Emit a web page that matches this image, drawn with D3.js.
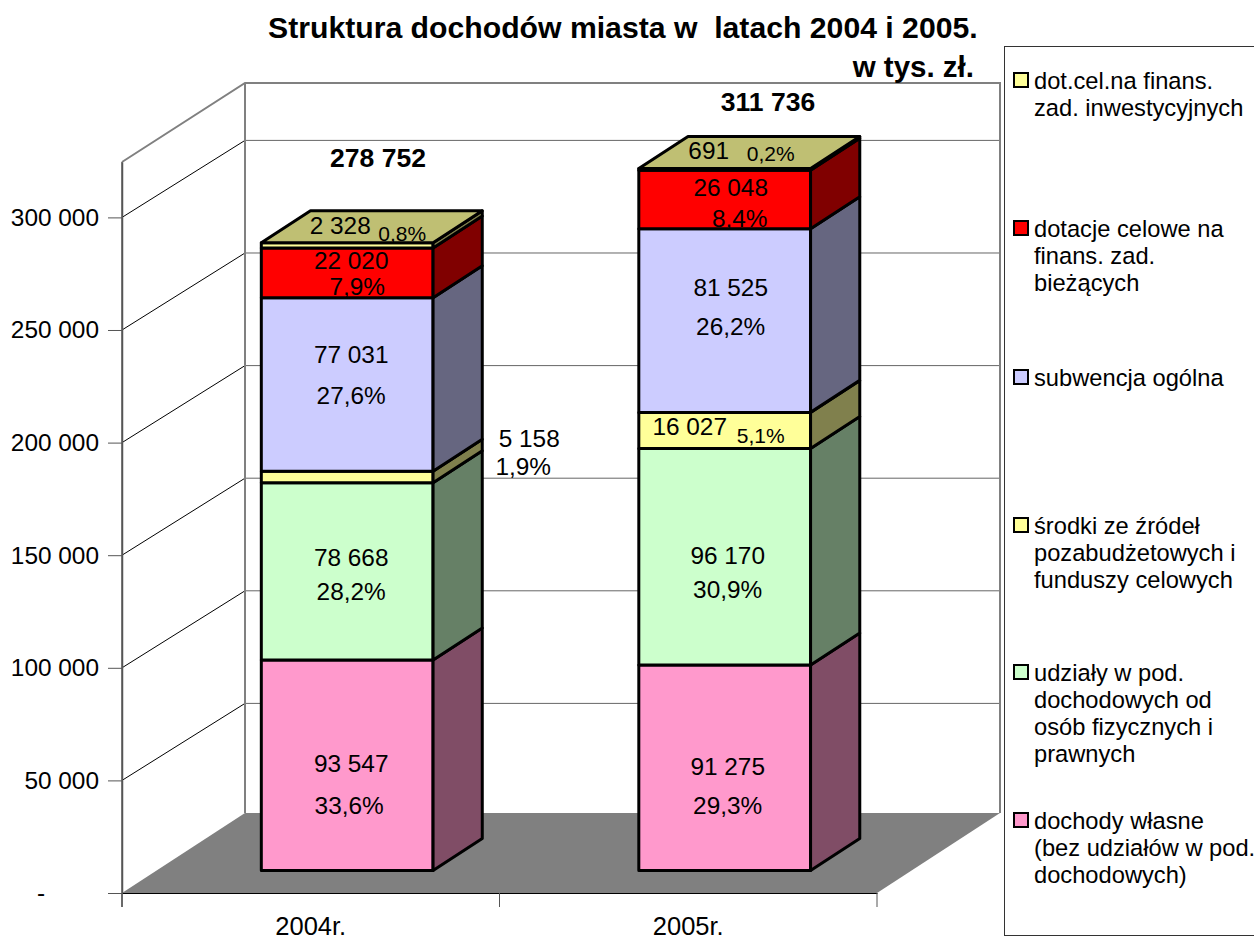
<!DOCTYPE html>
<html><head><meta charset="utf-8">
<script src="https://cdn.jsdelivr.net/npm/d3@7"></script>
<style>html,body{margin:0;padding:0;background:#fff;overflow:hidden}text{font-family:"Liberation Sans",Arial,sans-serif;fill:#000}</style>
</head><body><div id="chart"></div>
<script>
const categories = ["2004r.", "2005r."];
const seriesNames = ["dochody własne", "udziały w pod. dochodowych", "środki ze źródeł pozabudżetowych", "subwencja ogólna", "dotacje celowe na finans. zad. bieżących", "dot.cel.na finans. zad. inwestycyjnych"];
const values2004 = [93547, 78668, 5158, 77031, 22020, 2328];
const values2005 = [91275, 96170, 16027, 81525, 26048, 691];
const pct2004 = ["33,6%", "28,2%", "1,9%", "27,6%", "7,9%", "0,8%"];
const pct2005 = ["29,3%", "30,9%", "5,1%", "26,2%", "8,4%", "0,2%"];
const totals = ["278 752", "311 736"];
const yTicks = [0, 50000, 100000, 150000, 200000, 250000, 300000];
const frontColors = ["#ff99cc", "#ccffcc", "#ffff99", "#ccccff", "#ff0000", "#ffff99"];
const legendLines = [
  ["dot.cel.na finans.", "zad. inwestycyjnych"],
  ["dotacje celowe na", "finans. zad.", "bieżących"],
  ["subwencja ogólna"],
  ["środki ze źródeł", "pozabudżetowych i", "funduszy celowych"],
  ["udziały w pod.", "dochodowych od", "osób fizycznych i", "prawnych"],
  ["dochody własne", "(bez udziałów w pod.", "dochodowych)"]
];
const legendColors = ["#ffff99", "#ff0000", "#ccccff", "#ffff99", "#ccffcc", "#ff99cc"];

// layout (label offsets from each segment's centre)
const valueOffsets = [
  [[4,-1],[4,-13],[182,-38],[4,-29],[4,-11],[-7,-19]],
  [[3,0],[3,0],[-35,-3],[6,-32],[6,-11],[-16,-18]]
];
const pctOffsets = [
  [[2,41],[4,21],[176,-10],[4,12],[10,15],[55,-11]],
  [[3,39],[3,34],[36,6],[6,7],[15,20],[46,-15]]
];
const smallPct = [[0,0,0,0,0,1],[0,0,1,0,0,1]];
const legendY = [81, 229, 378, 526, 673, 821];

const W = 1254, H = 941, FS = 24.4;
const depthX = 123, depthY = 80, gridDepthY = 77, barStart = 0.28, barDepth = 0.4;
const svg = d3.select("#chart").append("svg").attr("width", W).attr("height", H).style("display","block");

const x = d3.scaleBand().domain(categories).range([122, 877]);
const y = d3.scaleLinear().domain([0, 324600]).range([893, 162]);
const xL = 122, xR = 877, y0 = y(0), yT = y.range()[1];
const line = (p, c, w) => svg.append("path").attr("d", d3.line()(p)).attr("fill","none").attr("stroke",c).attr("stroke-width",w);

// floor
svg.append("path").attr("fill","#808080")
  .attr("d", d3.line()([[xL,y0],[xL+depthX,y0-depthY],[xR+depthX,y0-depthY],[xR,y0]])+"Z");

// gridlines
yTicks.slice(1).forEach(t => {
  line([[xL,y(t)],[xL+depthX,y(t)-gridDepthY]], "#000", 1);
  line([[xL+depthX,y(t)-gridDepthY],[xR+depthX,y(t)-gridDepthY]], "#666", 1);
});
// walls
line([[xL,yT],[xL+depthX,yT-79],[xR+depthX,yT-79],[xR+depthX,y0-depthY]], "#808080", 2);
line([[xL+depthX,yT-79],[xL+depthX,y0-depthY]], "#808080", 2);
line([[xL,yT],[xL,y0]], "#808080", 2);

// axes
const yAxis = d3.axisLeft(y).tickValues(yTicks).tickSize(14).tickSizeOuter(0).tickPadding(9)
  .tickFormat(d => d === 0 ? "-" : d3.format(",")(d).replace(/,/g," "));
const gy = svg.append("g").attr("transform",`translate(${xL},0)`).call(yAxis);
gy.select(".domain").attr("stroke","#555").attr("stroke-width",1.5);
gy.selectAll(".tick line").attr("stroke","#555").attr("stroke-width",1);
gy.selectAll("text").attr("font-size",FS).attr("font-family",'"Liberation Sans"').attr("fill","#000");
gy.selectAll(".tick").filter(d=>d===0).select("text").attr("dx",-54);

const xAxis = d3.axisBottom(x).tickSize(14).tickPadding(9.5).tickSizeOuter(0);
const gx = svg.append("g").attr("transform",`translate(0,${y0})`).call(xAxis);
gx.select(".domain").attr("stroke","#000").attr("stroke-width",1);
gx.selectAll(".tick line").remove();
[xL, xL+x.step(), xR].forEach(px => line([[px,y0],[px,y0+14]], "#555", 1));
line([[xL,y0],[xL,y0+14]], "#555", 1.5);
gx.selectAll("text").attr("font-size",25.5).attr("font-family",'"Liberation Sans"').attr("fill","#000");

// bars
const shade = (c, k) => { const r = d3.rgb(c); return d3.rgb(r.r*k, r.g*k, r.b*k).formatHex(); };
const allValues = [values2004, values2005], allPct = [pct2004, pct2005];
const dx = depthX*barDepth, dy = depthY*barDepth;
const barW = x.bandwidth()*0.455;
const labels = [];
categories.forEach((cat, ci) => {
  const cx = x(cat) + x.bandwidth()/2 + depthX*barStart + 2;
  const shift = depthY*barStart;
  const l = cx - barW/2, r = cx + barW/2;
  let acc = 0;
  const g = svg.append("g").attr("stroke","#000").attr("stroke-width",3).attr("stroke-linejoin","round");
  allValues[ci].forEach((v, si) => {
    const top = y(acc+v) - shift, bot = y(acc) - shift;
    g.append("rect").attr("x",l).attr("y",top).attr("width",r-l).attr("height",bot-top).attr("fill",frontColors[si]);
    g.append("path").attr("fill",shade(frontColors[si],0.5))
      .attr("d", d3.line()([[r,bot],[r+dx,bot-dy],[r+dx,top-dy],[r,top]])+"Z");
    if (si === allValues[ci].length-1) {
      g.append("path").attr("fill",shade(frontColors[si],0.75))
        .attr("d", d3.line()([[l,top],[l+dx,top-dy],[r+dx,top-dy],[r,top]])+"Z");
    }
    const mid = (top+bot)/2;
    labels.push({t:d3.format(",")(v).replace(/,/g," "), x:cx+valueOffsets[ci][si][0], y:mid+valueOffsets[ci][si][1]-1, fs:FS});
    labels.push({t:allPct[ci][si], x:cx+pctOffsets[ci][si][0], y:mid+pctOffsets[ci][si][1]-1, fs:smallPct[ci][si]?21:FS});
    acc += v;
  });
});
svg.append("g").selectAll("text").data(labels).join("text")
  .attr("x",d=>d.x).attr("y",d=>d.y).attr("dy","0.35em").attr("text-anchor","middle")
  .attr("font-size",d=>d.fs).text(d=>d.t);

// totals
svg.append("g").selectAll("text").data(totals).join("text")
  .attr("x",(d,i)=>[378,768][i]).attr("y",(d,i)=>[158,102][i]).attr("dy","0.35em")
  .attr("text-anchor","middle").attr("font-size",26.5).attr("font-weight","bold").text(d=>d);

// title
svg.append("text").attr("x",268).attr("y",38).attr("font-size",30.2).attr("font-weight","bold")
  .style("white-space","pre").text("Struktura dochodów miasta w  latach 2004 i 2005.");
svg.append("text").attr("x",974).attr("y",77).attr("text-anchor","end").attr("font-size",29.5).attr("font-weight","bold").text("w tys. zł.");

// legend
svg.append("rect").attr("x",1004.5).attr("y",46.5).attr("width",270).attr("height",889).attr("fill","#fff").attr("stroke","#333").attr("stroke-width",1);
legendLines.forEach((ls,i)=>{
  svg.append("rect").attr("x",1014).attr("y",legendY[i]-8).attr("width",14).attr("height",14)
    .attr("fill",legendColors[i]).attr("stroke","#000").attr("stroke-width",2);
  ls.forEach((s,j)=>svg.append("text").attr("x",1034).attr("y",legendY[i]+j*27.2-0.5).attr("dy","0.35em").attr("font-size",23.7).text(s));
});
</script></body></html>
